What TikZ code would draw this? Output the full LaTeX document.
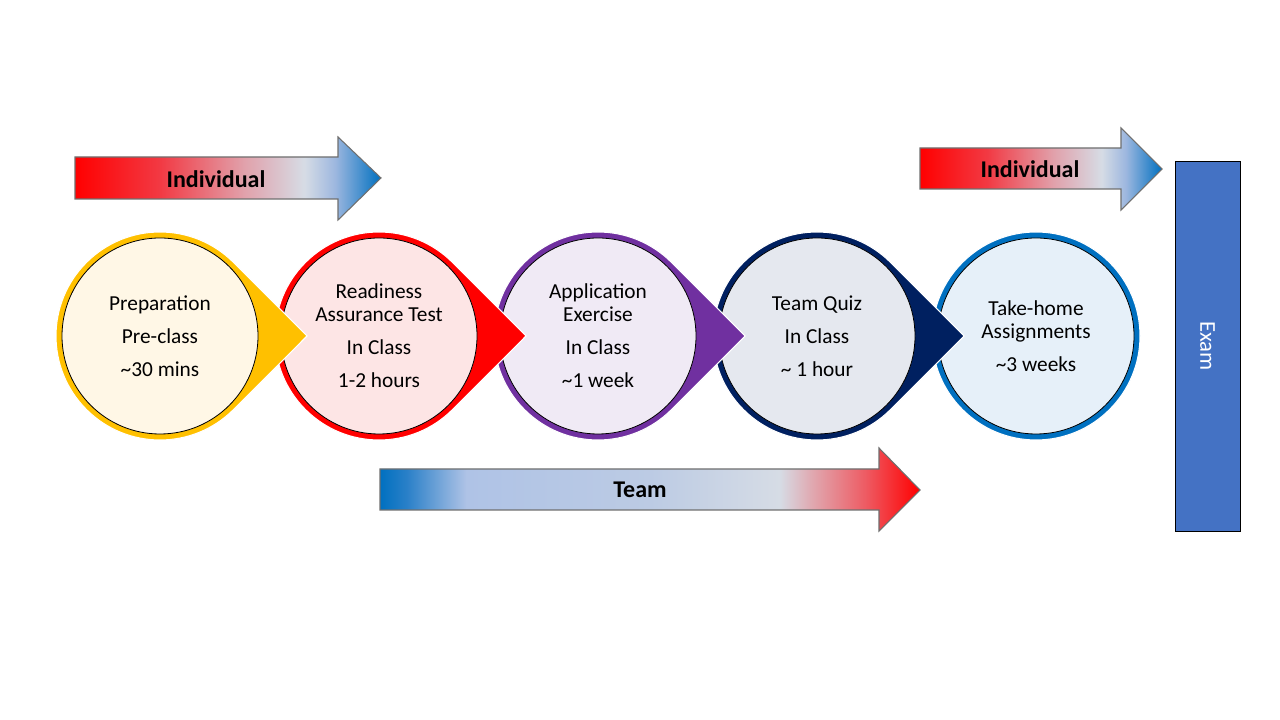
\documentclass[tikz,border=0pt]{standalone}
\usepackage{fontspec}
\setmainfont{Carlito}
\usetikzlibrary{calc}

% stage colours: ring and light fill
\definecolor{ringA}{HTML}{FFC000}\definecolor{fillA}{HTML}{FFF7E6}
\definecolor{ringB}{HTML}{FF0000}\definecolor{fillB}{HTML}{FDE5E5}
\definecolor{ringC}{HTML}{7030A0}\definecolor{fillC}{HTML}{F0EAF5}
\definecolor{ringD}{HTML}{002060}\definecolor{fillD}{HTML}{E5E8EF}
\definecolor{ringE}{HTML}{0070C0}\definecolor{fillE}{HTML}{E6F0F9}
\definecolor{examblue}{HTML}{4472C4}
\definecolor{arrowedge}{HTML}{6F6F6F}

% gradient stops for the banners
\definecolor{gRed}{HTML}{FF0000}
\definecolor{gRose}{HTML}{F23A44}
\definecolor{gPink}{HTML}{E1A0AA}
\definecolor{gMist}{HTML}{D6DCE5}
\definecolor{gSky}{HTML}{9DB7DF}
\definecolor{gBlue}{HTML}{0070C0}
\definecolor{gBlueB}{HTML}{2A80C8}
\definecolor{gPale}{HTML}{AFC3E6}
\definecolor{gPaleB}{HTML}{BCCBE4}
\definecolor{gBlush}{HTML}{E0A8B0}
\definecolor{gCoral}{HTML}{EE5A62}

\pgfdeclarehorizontalshading{individualfade}{100bp}{%
  color(0bp)=(gRed); color(25bp)=(gRed); color(39bp)=(gRose);
  color(52.5bp)=(gPink); color(62.5bp)=(gMist); color(67.5bp)=(gSky);
  color(75bp)=(gBlue); color(100bp)=(gBlue)}
\pgfdeclarehorizontalshading{teamfade}{100bp}{%
  color(0bp)=(gBlue); color(25bp)=(gBlue); color(27.5bp)=(gBlueB);
  color(33bp)=(gPale); color(50bp)=(gPaleB); color(62bp)=(gMist);
  color(65bp)=(gBlush); color(70bp)=(gCoral); color(75bp)=(gRed);
  color(100bp)=(gRed)}

\begin{document}
\begin{tikzpicture}[x=0.75pt,y=0.75pt,
  innerdisc/.style={circle, draw=black, line width=0.6pt, minimum size=147pt,
    inner sep=0pt, align=center, text=black,
    font=\fontsize{16}{17.5}\selectfont},
  teardrop/.style={draw=white, line width=0.8pt},
  banner/.style={draw=arrowedge, line width=0.8pt},
  bannerlabel/.style={font=\bfseries\fontsize{18}{21}\selectfont, text=black}]

\useasboundingbox (0,0) rectangle (1280,720);

% stage centres
\coordinate (c1) at (160,384);
\coordinate (c2) at (379,384);
\coordinate (c3) at (598,384);
\coordinate (c4) at (817,384);
\coordinate (c5) at (1036,384);

% stages are drawn right to left so each point lies over the next ring
\fill[ringE] (c5) circle[radius=78pt];
\draw[white, line width=0.8pt] (c5) circle[radius=78pt];
\node[innerdisc, fill=fillE] (s5) at (c5)
  {Take-home\\Assignments\\[7.25pt]\textasciitilde3 weeks};

\filldraw[teardrop, fill=ringD] ($(c4)+(147,0)$) -- ($(c4)+(45:78pt)$)
  arc[start angle=45, end angle=315, radius=78pt] -- cycle;
\node[innerdisc, fill=fillD] (s4) at (c4)
  {Team Quiz\\[7.25pt]In Class\\[7.25pt]\textasciitilde\ 1 hour};

\filldraw[teardrop, fill=ringC] ($(c3)+(147,0)$) -- ($(c3)+(45:78pt)$)
  arc[start angle=45, end angle=315, radius=78pt] -- cycle;
\node[innerdisc, fill=fillC] (s3) at (c3)
  {Application\\Exercise\\[7.25pt]In Class\\[7.25pt]\textasciitilde1 week};

\filldraw[teardrop, fill=ringB] ($(c2)+(147,0)$) -- ($(c2)+(45:78pt)$)
  arc[start angle=45, end angle=315, radius=78pt] -- cycle;
\node[innerdisc, fill=fillB] (s2) at (c2)
  {Readiness\\Assurance Test\\[7.25pt]In Class\\[7.25pt]1-2 hours};

\filldraw[teardrop, fill=ringA] ($(c1)+(147,0)$) -- ($(c1)+(45:78pt)$)
  arc[start angle=45, end angle=315, radius=78pt] -- cycle;
\node[innerdisc, fill=fillA] (s1) at (c1)
  {Preparation\\[7.25pt]Pre-class\\[7.25pt]\textasciitilde30 mins};

% banner arrows
\shadedraw[banner, shading=individualfade]
  (75,521) -- (338,521) -- (338,500) -- (381,542) -- (338,583) -- (338,563)
  -- (75,563) -- cycle;
\node[bannerlabel] (indivA) at (216,541) {Individual};

\shadedraw[banner, shading=individualfade]
  (920,531) -- (1121,531) -- (1121,510) -- (1162,551) -- (1121,592)
  -- (1121,572) -- (920,572) -- cycle;
\node[bannerlabel] (indivB) at (1030,551) {Individual};

\shadedraw[banner, shading=teamfade]
  (380,210) -- (879,210) -- (879,189) -- (920,230) -- (879,272) -- (879,251)
  -- (380,251) -- cycle;
\node[bannerlabel] (team) at (640,230) {Team};

% exam block
\node[draw=black, line width=0.6pt, fill=examblue, rotate=-90,
  minimum width=277.5pt, minimum height=48.75pt, inner sep=0pt,
  text=white, font=\fontsize{17}{20}\selectfont] (exam) at (1207.5,374) {Exam};

\end{tikzpicture}
\end{document}
